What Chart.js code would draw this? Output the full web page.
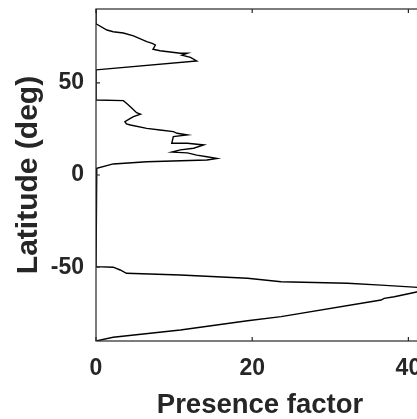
<!DOCTYPE html>
<html>
<head>
<meta charset="utf-8">
<script src="https://cdn.jsdelivr.net/npm/chart.js@4"></script>
<style>
  html, body { margin: 0; padding: 0; background: #fff; overflow: hidden; }
  canvas { display: block; }
</style>
</head>
<body>
<canvas id="perfil" width="424" height="419"></canvas>
<script>
// latitud (eje Y) y factor de presencia (eje X)
const latitud = [90, 82, 78.6, 77.7, 77, 75.4, 72.3, 71.4, 70.5, 68.2, 67.4, 66, 66, 65, 63.8, 61.8, 57,
  40.7, 40.3, 38.9, 37, 33.8, 33, 31.6, 30.7, 28.9, 27.7, 27.1, 25.3, 24.4, 23.5, 22.6, 21.7, 20.8,
  17.2, 17.2, 16.3, 14.5, 13.6, 12.4, 12.0, 10.8, 9.9, 9.0, 8.1, 7.2, 6, 3.6, 3,
  -49.7, -50, -51.5, -53.3, -54.2, -56, -57.9, -58.7, -59.7, -60.9, -62, -63.3, -66, -66.9, -67.8,
  -76.8, -79, -84, -88, -90];
const presencia = [0, 0, 1.4, 2.2, 3.5, 4.8, 6.5, 7.2, 7.6, 7.3, 8.2, 10.8, 11.7, 11, 12.1, 12.9, 0,
  0, 3.5, 3.9, 4.4, 5.2, 5.7, 4.8, 4.4, 3.7, 3.9, 4.4, 6.5, 8.2, 9.9, 10.4, 11.7, 9.9,
  9.7, 11.7, 13.8, 12.5, 10.8, 9.7, 11.7, 12.9, 14.2, 15.5, 14.2, 6.5, 2.2, 0.1, 0,
  0, 2.2, 3.1, 3.9, 10.8, 19.4, 23.7, 32.2, 36.5, 41.2, 42, 41.2, 38.2, 36.9, 36.5,
  23.7, 19.4, 10.8, 2.2, 0];
const xTicks = [0, 20, 40];
const yTicks = [-50, 0, 50];

const gris = '#262626';

// marco y marcas hacia dentro, estilo matlab
const marco = {
  id: 'marco',
  afterDraw(chart) {
    const { ctx, chartArea: a, scales } = chart;
    ctx.save();
    ctx.strokeStyle = gris;
    ctx.lineWidth = 1.2;
    ctx.strokeRect(a.left, a.top, a.right - a.left, a.bottom - a.top);
    ctx.beginPath();
    xTicks.forEach(v => {
      const px = scales.x.getPixelForValue(v);
      ctx.moveTo(px, a.bottom); ctx.lineTo(px, a.bottom - 4);
      ctx.moveTo(px, a.top); ctx.lineTo(px, a.top + 4);
    });
    yTicks.forEach(v => {
      const py = scales.y.getPixelForValue(v);
      ctx.moveTo(a.left, py); ctx.lineTo(a.left + 4, py);
      ctx.moveTo(a.right, py); ctx.lineTo(a.right - 4, py);
    });
    ctx.stroke();
    ctx.restore();
  }
};

const ctx = document.getElementById('perfil').getContext('2d');
new Chart(ctx, {
  type: 'scatter',
  data: {
    datasets: [{
      data: latitud.map((lat, i) => ({ x: presencia[i], y: lat })),
      showLine: true,
      borderColor: '#000',
      borderWidth: 1.4,
      pointRadius: 0,
      tension: 0
    }]
  },
  options: {
    responsive: false,
    animation: false,
    layout: { padding: { top: 9, right: 0, left: 0, bottom: 0 } },
    plugins: { legend: { display: false }, tooltip: { enabled: false } },
    scales: {
      x: {
        min: 0, max: 42,
        afterBuildTicks: s => { s.ticks = xTicks.map(v => ({ value: v })); },
        afterFit: s => { s.height = 78; s.paddingLeft = 0; s.paddingRight = 0; },
        grid: { display: false, drawTicks: false },
        border: { display: false },
        ticks: { color: gris, padding: 14, font: { family: 'Liberation Sans', weight: 'bold', size: 23 } },
        title: { display: true, text: 'Presence factor', color: gris, padding: { top: 0, bottom: 0 },
          font: { family: 'Liberation Sans', weight: 'bold', size: 27.5, lineHeight: 1 } }
      },
      y: {
        min: -90, max: 90,
        afterBuildTicks: s => { s.ticks = yTicks.map(v => ({ value: v })); },
        afterFit: s => { s.width = 96; s.paddingTop = 0; s.paddingBottom = 0; },
        grid: { display: false, drawTicks: false },
        border: { display: false },
        ticks: { color: gris, padding: 12, font: { family: 'Liberation Sans', weight: 'bold', size: 23 } },
        title: { display: true, text: 'Latitude (deg)', color: gris, padding: { top: 14, bottom: 0 },
          font: { family: 'Liberation Sans', weight: 'bold', size: 30, lineHeight: 1 } }
      }
    }
  },
  plugins: [marco]
});
</script>
</body>
</html>
